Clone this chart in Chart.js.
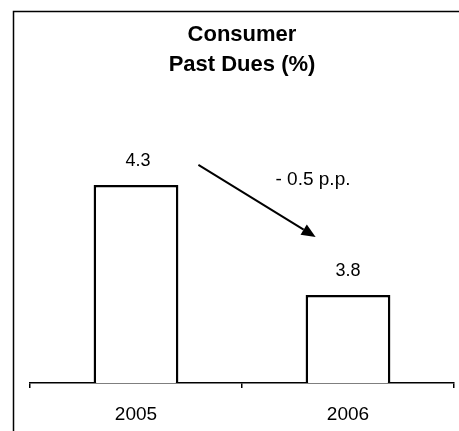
<!DOCTYPE html>
<html>
<head>
<meta charset="utf-8">
<script src="https://cdn.jsdelivr.net/npm/chart.js@4/dist/chart.umd.min.js"></script>
<style>
  html, body { margin: 0; padding: 0; background: #fff; }
  #wrap { width: 459px; height: 431px; position: relative; }
</style>
</head>
<body>
<div id="wrap"><canvas id="c" width="459" height="431"></canvas></div>
<script>
const categories = ["2005", "2006"];
const pastDues = [4.3, 3.8];
const titleLines = ["Consumer", "Past Dues (%)"];
const changeUnit = "p.p.";

const FONT = "'Liberation Sans', Arial, Helvetica, sans-serif";

const framePlugin = {
  id: 'frame',
  beforeDraw(chart) {
    const ctx = chart.ctx;
    ctx.save();
    ctx.fillStyle = '#fff';
    ctx.fillRect(0, 0, chart.width, chart.height);
    ctx.strokeStyle = '#000';
    ctx.lineWidth = 1.5;
    ctx.beginPath();
    ctx.moveTo(13.5, chart.height);
    ctx.lineTo(13.5, 11.5);
    ctx.lineTo(chart.width, 11.5);
    ctx.stroke();
    ctx.restore();
  }
};

const annotPlugin = {
  id: 'annot',
  afterDatasetsDraw(chart) {
    const ctx = chart.ctx;
    const meta = chart.getDatasetMeta(0);
    ctx.save();
    ctx.fillStyle = '#000';
    ctx.font = '18px ' + FONT;
    ctx.textAlign = 'center';
    ctx.textBaseline = 'middle';
    meta.data.forEach((bar, i) => {
      ctx.fillText(pastDues[i].toFixed(1), bar.x + (i === 0 ? 2 : 0), bar.y - 24);
    });
    // arrow between the two bars
    const b0 = meta.data[0], b1 = meta.data[1];
    const x0 = b0.x + b0.width / 2 + 20, y0 = b0.y - 20;
    const x1 = b1.x - b1.width / 2 + 10, y1 = b1.y - 58;
    ctx.strokeStyle = '#000';
    ctx.lineWidth = 2;
    const ang = Math.atan2(y1 - y0, x1 - x0);
    const hl = 14, hw = 6;
    const bx = x1 - hl * Math.cos(ang), by = y1 - hl * Math.sin(ang);
    ctx.beginPath();
    ctx.moveTo(x0, y0);
    ctx.lineTo(bx, by);
    ctx.stroke();
    ctx.beginPath();
    ctx.moveTo(x1, y1);
    ctx.lineTo(bx + hw * Math.sin(ang), by - hw * Math.cos(ang));
    ctx.lineTo(bx - hw * Math.sin(ang), by + hw * Math.cos(ang));
    ctx.closePath();
    ctx.fill();
    const delta = pastDues[1] - pastDues[0];
    const txt = (delta < 0 ? '- ' : '+ ') + Math.abs(delta).toFixed(1) + ' ' + changeUnit;
    ctx.font = '19px ' + FONT;
    ctx.fillText(txt, (x0 + x1) / 2 + 56, y0 + 15);
    ctx.restore();
  }
};

new Chart(document.getElementById('c'), {
  type: 'bar',
  data: {
    labels: categories,
    datasets: [{
      data: pastDues,
      backgroundColor: '#fff',
      borderColor: '#000',
      borderWidth: 2.5,
      borderSkipped: false,
      categoryPercentage: 1,
      barPercentage: 0.4
    }]
  },
  options: {
    responsive: false,
    animation: false,
    devicePixelRatio: 1,
    layout: { padding: { left: 30, right: 5, top: 0, bottom: 0 } },
    plugins: {
      legend: { display: false },
      tooltip: { enabled: false },
      title: {
        display: true,
        text: titleLines,
        color: '#000',
        font: { family: FONT, size: 22, weight: 'bold', lineHeight: 1.36 },
        padding: { top: 20, bottom: 17 }
      }
    },
    scales: {
      y: { display: false, min: 3.4, max: 4.7 },
      x: {
        offset: true,
        afterFit(scale) { scale.height = 48; },
        grid: {
          offset: true,
          drawOnChartArea: false,
          drawTicks: true,
          tickLength: 5,
          color: '#000',
          lineWidth: 1.5
        },
        border: { display: true, color: '#000', width: 1.5 },
        ticks: {
          color: '#000',
          padding: 15,
          font: { family: FONT, size: 19 }
        }
      }
    }
  },
  plugins: [framePlugin, annotPlugin]
});
</script>
</body>
</html>
